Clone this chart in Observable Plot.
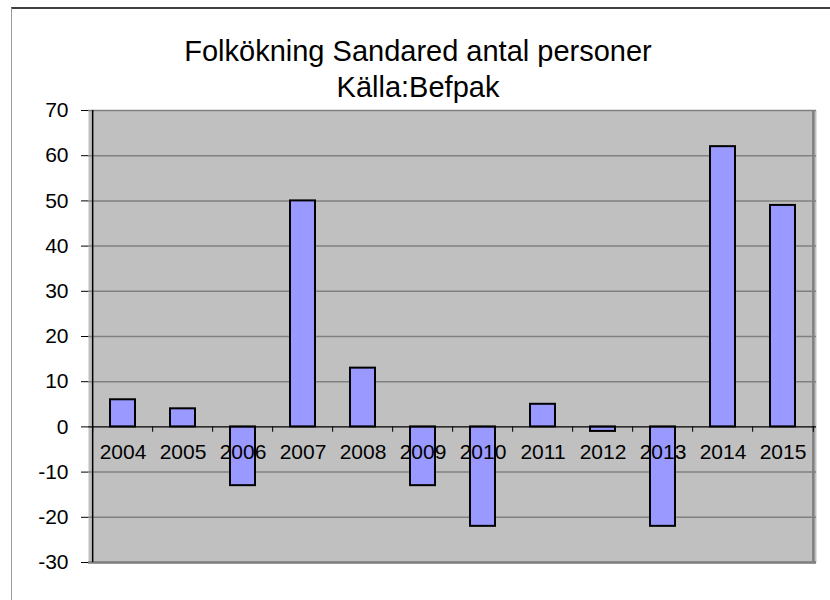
<!DOCTYPE html>
<html><head><meta charset="utf-8">
<script src="https://cdn.jsdelivr.net/npm/d3@7"></script>
<script src="https://cdn.jsdelivr.net/npm/@observablehq/plot@0.6"></script>
<style>
body{margin:0;background:#fff;}
#wrap{position:relative;width:830px;height:600px;overflow:hidden;font-family:"Liberation Sans",Arial,sans-serif;}
#frame{position:absolute;left:11px;top:7px;width:830px;height:600px;border-left:1px solid #9a9a9a;border-top:2px solid #404040;}
#title{position:absolute;left:0;top:33px;width:836px;text-align:center;font-size:29px;line-height:36px;color:#000;}
#wrap svg{position:absolute;left:0;top:0;}
</style></head><body><div id="wrap"><div id="frame"></div><div id="title"></div></div>
<script>
const years = ["2004","2005","2006","2007","2008","2009","2010","2011","2012","2013","2014","2015"];
const values = [6,4,-13,50,13,-13,-22,5,-1,-22,62,49];
const yTicks = [-30,-20,-10,0,10,20,30,40,50,60,70];
const titleLines = ["Folkökning Sandared antal personer","Källa:Befpak"];

const data = years.map((y,i)=>({year:y,value:values[i]}));
document.getElementById("title").innerHTML = titleLines.join("<br>");

const W=830,H=600,mL=88,mR=14,mT=110,mB=38;
const step=(W-mL-mR)/years.length;
const zero = () => 0;
const plot = Plot.plot({
  width:W,height:H,marginLeft:mL,marginRight:mR,marginTop:mT,marginBottom:mB,
  style:{fontFamily:"'Liberation Sans',Arial,sans-serif",background:"transparent",color:"#000"},
  x:{type:"band",domain:years,paddingInner:0.59,paddingOuter:0.295,axis:null},
  y:{domain:[-30,70],axis:null},
  marks:[
    Plot.frame({fill:"#c0c0c0",stroke:"none"}),
    Plot.ruleY(yTicks.filter(t=>t!==0),{stroke:"#808080",strokeWidth:1.5}),
    Plot.ruleY([-30],{stroke:"#808080",strokeWidth:2.5}),
    Plot.ruleX([years[years.length-1]],{dx:step/2,stroke:"#808080",strokeWidth:2.5}),
    Plot.barY(data,{x:"year",y:"value",fill:"#9999ff",stroke:"#000",strokeWidth:2}),
    Plot.ruleY([0],{stroke:"#000",strokeWidth:1.3}),
    Plot.ruleX(years,{x:d=>d,dx:-step/2,y1:zero,y2:()=>-1.2,stroke:"#000",strokeWidth:1}),
    Plot.ruleX([years[years.length-1]],{dx:step/2,y1:zero,y2:()=>-1.2,stroke:"#000",strokeWidth:1}),
    Plot.ruleX([years[0]],{dx:-step/2,stroke:"#000",strokeWidth:1.5}),
    Plot.axisY(yTicks,{label:null,tickFormat:d=>String(d),tickSize:7,tickPadding:13,fontSize:21,stroke:"#000",fill:"#000"}),
    Plot.text(data,{x:"year",y:zero,text:"year",dy:25,fontSize:21,fill:"#000"})
  ]
});
document.getElementById("wrap").appendChild(plot);
</script></body></html>
